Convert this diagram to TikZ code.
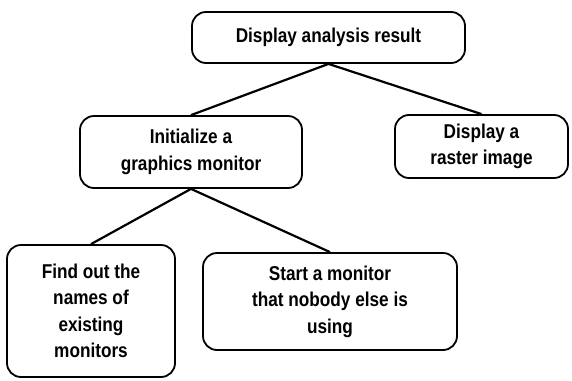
\documentclass[tikz,border=0pt]{standalone}
\usepackage{fontspec}
\setmainfont{Liberation Sans}[FakeStretch=0.86]
\usepackage{tikz}
\usetikzlibrary{positioning}

\begin{document}
\begin{tikzpicture}[
  x=1pt,y=-1pt,
  box/.style={draw,line width=1.8pt,rounded corners=14pt,align=center,inner sep=0pt,
    font=\bfseries\fontsize{20}{26.5}\selectfont},
  link/.style={line width=2.2pt}]
\useasboundingbox (0,0) rectangle (572,380);
% task tree
\node[box,minimum width=273,minimum height=51] (show) at (328.5,37.5) {Display analysis result};
\node[box,minimum width=222,minimum height=72] (init) at (191,152) {Initialize a\\graphics monitor};
\node[box,minimum width=173,minimum height=63] (raster) at (481.5,146.5) {Display a\\raster image};
\node[box,minimum width=168,minimum height=132] (find) at (91,311) {Find out the\\names of\\existing\\monitors};
\node[box,minimum width=254,minimum height=97] (start) at (330,301.5) {Start a monitor\\that nobody else is\\using};
\draw[link] (show.south)--(init.north);
\draw[link] (show.south)--(raster.north);
\draw[link] (init.south)--(find.north);
\draw[link] (init.south)--(start.north);
\end{tikzpicture}
\end{document}
